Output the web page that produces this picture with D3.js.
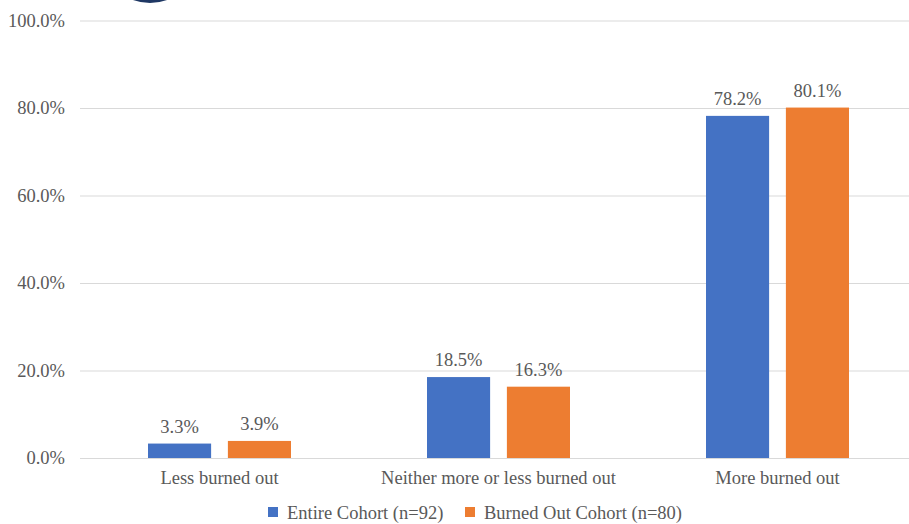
<!DOCTYPE html>
<html>
<head>
<meta charset="utf-8">
<script src="https://cdn.jsdelivr.net/npm/d3@7"></script>
<style>
  body { margin: 0; background: #fff; }
  #chart { font-family: "Liberation Serif", "Times New Roman", serif; }
</style>
</head>
<body>
<svg id="chart" width="909" height="524"></svg>
<script>
// chart data
var categories = ["Less burned out", "Neither more or less burned out", "More burned out"]
var series = ["Entire Cohort (n=92)", "Burned Out Cohort (n=80)"]
var entireCohort = [3.3, 18.5, 78.2]
var burnedOutCohort = [3.9, 16.3, 80.1]
var yTicks = [0, 20, 40, 60, 80, 100]
var colors = ["#4472c4", "#ed7d31"]

var values = [entireCohort, burnedOutCohort]
var FONT = "Liberation Serif"

var svg = d3.select("#chart")

// partial logo cut off at the top
svg.append("circle")
    .attr("cx", 150).attr("cy", -47).attr("r", 50)
    .attr("fill", "#1f3864")

var x0 = d3.scaleBand()
    .domain(categories)
    .range([80, 917])

var x1 = d3.scaleBand()     /// position of the two bars inside a group
    .domain(series)
    .range([68, 211])
    .paddingInner(0.21)

var y = d3.scaleLinear()
    .domain([0, 100])
    .range([458, 20.5])

/// gridlines + tick labels
var yAxis = svg.append("g")
    .attr("transform", "translate(80,0)")
    .call(d3.axisLeft(y).tickValues(yTicks).tickSize(-837).tickFormat(d => d.toFixed(1) + "%"))

yAxis.attr("font-family", null).attr("font-size", null)
yAxis.select(".domain").remove()
yAxis.selectAll("line").attr("stroke", "#d9d9d9").attr("stroke-width", 1)
yAxis.selectAll("text")
    .attr("x", -15)
    .attr("dy", "0.32em")

/// bars
var groups = svg.selectAll("g.cat")
    .data(categories)
    .enter()
    .append("g")
    .attr("class", "cat")
    .attr("transform", d => "translate(" + x0(d) + ",0)")

groups.selectAll("rect")
    .data((d, i) => series.map((s, j) => ({ s: s, v: values[j][i], j: j })))
    .enter()
    .append("rect")
    .attr("x", d => x1(d.s))
    .attr("y", d => y(d.v))
    .attr("width", x1.bandwidth())
    .attr("height", d => y(0) - y(d.v))
    .attr("fill", d => colors[d.j])

/// value labels
groups.selectAll("text.val")
    .data((d, i) => series.map((s, j) => ({ s: s, v: values[j][i] })))
    .enter()
    .append("text")
    .attr("class", "val")
    .attr("text-anchor", "middle")
    .attr("x", d => x1(d.s) + x1.bandwidth() / 2)
    .attr("y", d => y(d.v) - 11)
    .text(d => d.v.toFixed(1) + "%")

/// category labels
svg.selectAll("text.cat")
    .data(categories)
    .enter()
    .append("text")
    .attr("class", "cat")
    .attr("text-anchor", "middle")
    .attr("x", d => x0(d) + x0.bandwidth() / 2)
    .attr("y", 484)
    .text(d => d)

/// legend
var legendX = [268, 465]
var legend = svg.selectAll("g.legend")
    .data(series)
    .enter()
    .append("g")
    .attr("class", "legend")
    .attr("transform", (d, i) => "translate(" + legendX[i] + ",0)")

legend.append("rect")
    .attr("x", 0).attr("y", 507)
    .attr("width", 10).attr("height", 10)
    .attr("fill", (d, i) => colors[i])

legend.append("text")
    .attr("x", 19)
    .attr("y", 519)
    .text(d => d)

svg.selectAll("text")
    .attr("font-family", FONT)
    .style("font-family", FONT)
    .style("font-size", "18.5px")
    .style("fill", "#595959")
</script>
</body>
</html>
